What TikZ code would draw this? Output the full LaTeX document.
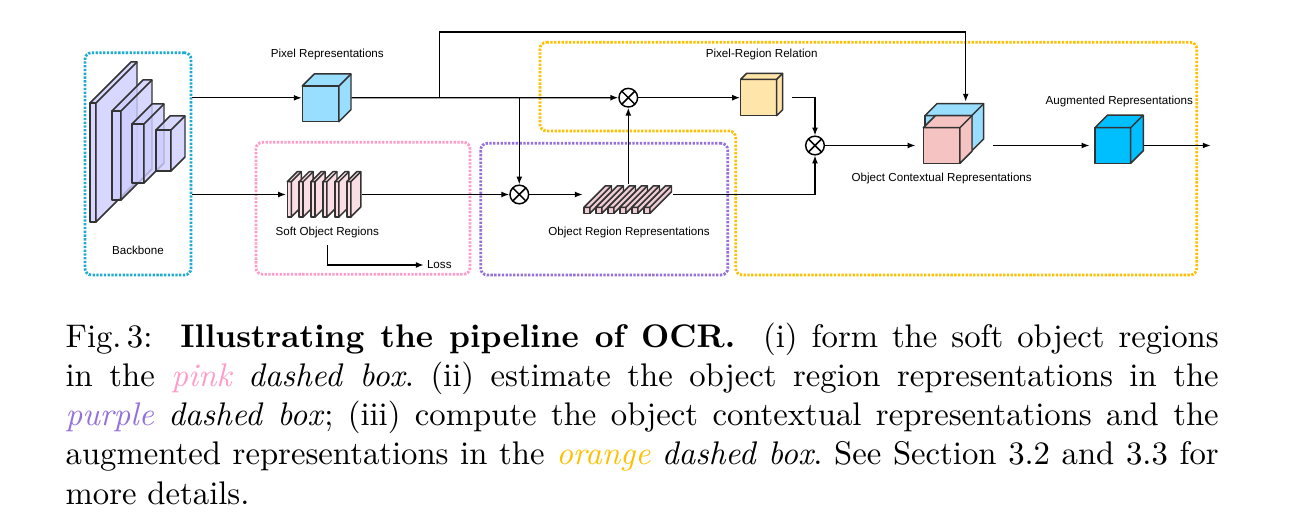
\documentclass[tikz,border=0pt]{standalone}
\usepackage{fontspec}
\setsansfont{Liberation Sans}
\usepackage[]{xcolor}
\usetikzlibrary{arrows.meta,fit,positioning}

\definecolor{bbcol}{RGB}{30,172,210}
\definecolor{pinkc}{RGB}{255,155,200}
\definecolor{purplec}{RGB}{147,112,219}
\definecolor{orangec}{RGB}{255,192,0}
\definecolor{pixcol}{RGB}{153,221,255}
\definecolor{relcol}{RGB}{255,229,170}
\definecolor{ctxcol}{RGB}{244,195,194}
\definecolor{augcol}{RGB}{0,191,255}
\definecolor{layercol}{RGB}{205,205,255}
\definecolor{softcol}{RGB}{250,222,228}
\definecolor{barcol}{RGB}{240,205,212}

% 立方体: 名字, 左, 上, 宽, 高, 深, 颜色
\newcommand{\drawcube}[7]{%
  \filldraw[cubeface,fill=#7] (#2,#3) rectangle ++(#4,#5);
  \filldraw[cubeface,fill=#7] (#2,#3) -- ++(#6,-#6) -- ++(#4,0) -- ++(0,#5) -- ++(-#6,#6) -- ++(0,-#5) -- cycle;
  \draw[cubeface] (#2+#4,#3) -- ++(#6,-#6);
  \path (#2,#3+#5) coordinate (#1-a) (#2+#4+#6,#3-#6) coordinate (#1-b);
  \node[fit=(#1-a)(#1-b),inner sep=0pt] (#1) {};
}

\begin{document}
\begin{tikzpicture}[x=0.3057pt,y=-0.3057pt,
    cubeface/.style={draw=black!80,line width=0.45pt,line join=round},
    dotbox/.style={line width=0.85pt,dash pattern=on 0.7pt off 0.45pt,rounded corners=2pt},
    arr/.style={-{Latex[length=2.4pt,width=1.8pt]},line width=0.4pt},
    lbl/.style={font=\sffamily\fontsize{3.55}{4.2}\selectfont,inner sep=0.8pt},
    mul/.style={circle,draw,line width=0.45pt,minimum size=5.7pt,inner sep=0pt,fill=white,
        path picture={\draw[line width=0.45pt] (path picture bounding box.north west) -- (path picture bounding box.south east)
            (path picture bounding box.north east) -- (path picture bounding box.south west);}}]
\path[fill=white] (0,0) rectangle (1313,526); % 画布

% 虚线框
\node[dotbox,draw=bbcol,fit={(85,52.7)(191,275)},inner sep=0pt] (bbbox) {};
\node[dotbox,draw=pinkc,fit={(256,142.3)(470,274.3)},inner sep=0pt] (pinkbox) {};
\node[dotbox,draw=purplec,fit={(480.7,143.3)(727.7,275)},inner sep=0pt] (purplebox) {};
\draw[dotbox,draw=orangec] (540,42.3) -- (1196.7,42.3) -- (1196.7,275) -- (735.7,275) -- (735.7,131) -- (540,131) -- cycle;

% backbone
\begin{scope}[fill opacity=0.8]
\foreach \x/\y/\w/\h/\dep [count=\i] in {90/103/6/119/41,112/111/9/89/31,132/124/12/59/20,156/130/15/41/14}
    \drawcube{bb\i}{\x}{\y}{\w}{\h}{\dep}{layercol};
\end{scope}
\node[lbl] (bblbl) at (138,250.7) {Backbone};

% 特征
\drawcube{pix}{302.3}{86}{36.7}{35.7}{12}{pixcol}
\node[lbl] (pixlbl) at (327.3,55) {Pixel Representations};
\foreach \i in {0,...,5}
    \drawcube{s\i}{287.3+11.9*\i}{181.7}{4}{35.3}{10}{softcol};
\node[fit=(s0)(s5),inner sep=0pt] (soft) {};
\node[lbl] (softlbl) at (327.3,232.7) {Soft Object Regions};
\node[lbl] (loss) at (439.3,265) {Loss};
\foreach \i in {0,...,5}
    \drawcube{r\i}{584+12*\i}{207.3}{6}{6}{21.5}{barcol};
\node[fit=(r0)(r5),inner sep=0pt] (orr) {};
\node[lbl] (orrlbl) at (629,232.3) {Object Region Representations};
\drawcube{prr}{740.7}{79.3}{36}{36.4}{6}{relcol}
\node[lbl] (prrlbl) at (761.7,55) {Pixel-Region Relation};
\drawcube{ctxb}{925}{115.7}{46.7}{35.3}{12}{pixcol}
\drawcube{ctx}{923.3}{127.7}{36.7}{35.6}{12}{ctxcol}
\node[fit=(ctx)(ctxb),inner sep=0pt] (ocr) {};
\node[lbl] (ocrlbl) at (941.7,178.3) {Object Contextual Representations};
\drawcube{aug}{1095}{127.7}{35.7}{35.6}{12.6}{augcol}
\node[lbl] (auglbl) at (1119.3,101.7) {Augmented Representations};

% 乘法
\node[mul] (mulA) at (628.3,97.7) {};
\node[mul] (mulB) at (519.3,194.5) {};
\node[mul] (mulC) at (815,145.5) {};
\coordinate (jA) at (439.3,97.7);
\coordinate (jB) at (519.3,97.7);
\coordinate (ctxIn) at (965.7,101.7);
\coordinate (outp) at (1210.7,145.5);

% 连线
\draw[arr] (bbbox.east |- pix) -- (pix.west);
\draw[arr] (bbbox.east |- mulB) -- (soft.west |- mulB);
\draw[arr] (pix.east) -- (mulA.west);
\draw[arr] (jA) -- ++(0,-65.7) -| (ctxIn);
\draw[arr] (jB) -- (mulB.north);
\draw[arr] (soft.east |- mulB) -- (mulB.west);
\draw[arr] (mulB.east) -- (orr.west |- mulB);
\draw[arr] (orr.north -| mulA) -- (mulA.south);
\draw[arr] (orr.east |- mulB) -| (mulC.south);
\draw[arr] (mulA.east) -- (prr.west |- mulA);
\draw[arr,shorten <=2.5pt] (prr.east |- mulA) -| (mulC.north);
\draw[arr,shorten >=2pt] (mulC.east) -- (ocr.west |- mulC);
\draw[arr,shorten <=2.5pt,shorten >=1.5pt] (ocr.east |- mulC) -- (aug.west |- mulC);
\draw[arr] (aug.east |- mulC) -- (outp);
\draw[arr,shorten <=1.2pt] (softlbl.south) |- (loss.west);

% 图注
\node[anchor=north west,text width=352.5pt,align=justify,inner sep=0pt,font=\fontsize{10}{12}\selectfont\frenchspacing] (cap) at (65,322)
{Fig.\,3:\ \ \textbf{Illustrating the pipeline of OCR.}\ \ (i) form the soft object regions\linebreak
in the \textit{\textcolor{pinkc}{pink}} \textit{dashed box}. (ii) estimate the object region representations in the\linebreak
\textit{\textcolor{purplec}{purple}} \textit{dashed box}; (iii) compute the object contextual representations and the\linebreak
augmented representations in the \textit{\textcolor{orangec}{orange}} \textit{dashed box}. See Section 3.2 and 3.3 for\linebreak
more details.};
\end{tikzpicture}
\end{document}
